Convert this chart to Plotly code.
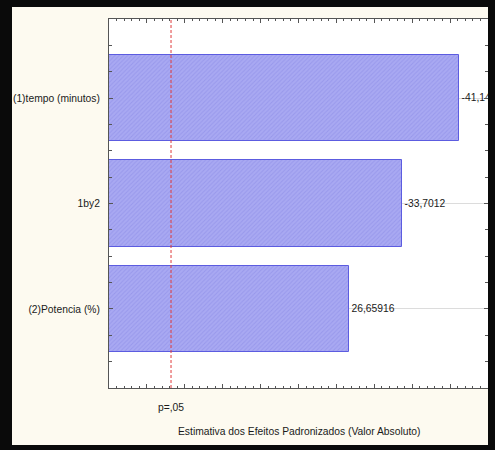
import plotly.graph_objects as go

# Data
categories = ["(1)tempo (minutos)", "1by2", "(2)Potencia (%)"]
effects_abs = [41.14, 33.7012, 26.65916]
value_labels = ["-41,14", "-33,7012", "26,65916"]
p_crit = 3.182
p_label = "p=,05"
x_title = "Estimativa dos Efeitos Padronizados (Valor Absoluto)"
x_min, x_max = -5, 45

FONT = "Liberation Sans, Arial, sans-serif"
TXT = "#1a1a1a"
FS = 10.3

positions = list(range(len(categories)))

fig = go.Figure()
fig.add_trace(go.Bar(
    x=[v - x_min for v in effects_abs], y=positions, orientation="h", base=x_min,
    width=0.82,
    marker=dict(color="#a9a9f2",
                line=dict(color="#5c5ce0", width=1),
                pattern=dict(shape="/", fgcolor="#8a8ae6", size=3, solidity=0.35, fillmode="overlay")),
    text=value_labels, textposition="outside", cliponaxis=True,
    constraintext="none",
    textfont=dict(family=FONT, size=FS, color=TXT),
    hoverinfo="skip",
))

fig.update_layout(
    template="none",
    width=495, height=450,
    margin=dict(l=109, r=7, t=19, b=62, autoexpand=False),
    paper_bgcolor="#fdfaf0",
    plot_bgcolor="white",
    showlegend=False,
    font=dict(family=FONT, size=FS, color=TXT),
    bargap=0,
)

fig.update_xaxes(
    range=[x_min, x_max], showgrid=False, zeroline=False, automargin=False,
    showline=True, linecolor="#555555", linewidth=1, mirror="ticks",
    ticks="inside", ticklen=4, tickcolor="#555555", dtick=5, tick0=0,
    showticklabels=False,
    minor=dict(ticks="inside", ticklen=2, dtick=1, tick0=0, tickcolor="#555555", showgrid=False),
)
fig.update_yaxes(
    range=[2.75, -0.75], tickvals=positions, ticktext=categories,
    showgrid=True, gridcolor="#dcdcdc", gridwidth=1, zeroline=False, automargin=False,
    showline=True, linecolor="#555555", linewidth=1, mirror="ticks",
    ticks="inside", ticklen=4, tickcolor="#555555", ticklabelstandoff=6,
    tickfont=dict(family=FONT, size=FS, color=TXT),
    minor=dict(ticks="inside", ticklen=3, dtick=0.25, tick0=0, tickcolor="#555555", showgrid=False),
)

W, L, H = 379.0, 109.0, 369.0
def px(xp): return (xp - L) / W
def py(yp): return (388.0 - yp) / H

# dark frame around the picture
for (a, b, c, d) in [(0, 12, 0, 450), (488, 495, 0, 450), (0, 495, 0, 7), (0, 495, 445, 450)]:
    fig.add_shape(type="rect", xref="paper", yref="paper",
                  x0=px(a), x1=px(b), y0=py(d), y1=py(c),
                  fillcolor="#0a0a0a", line=dict(width=0), layer="above")

# p = .05 reference line
fig.add_shape(type="line", xref="x", yref="paper", x0=p_crit, x1=p_crit, y0=0, y1=1,
              line=dict(color="#e03a3a", width=1, dash="3px,2px"), layer="above")

fig.add_annotation(x=p_crit, xref="x", y=-0.0515, yref="paper", text=p_label,
                   showarrow=False, xanchor="center", yanchor="middle",
                   font=dict(family=FONT, size=FS, color=TXT))
fig.add_annotation(x=0.5, xref="paper", y=-0.1192, yref="paper", text=x_title,
                   showarrow=False, xanchor="center", yanchor="middle",
                   font=dict(family=FONT, size=FS, color=TXT))

fig.write_html("out.html")
